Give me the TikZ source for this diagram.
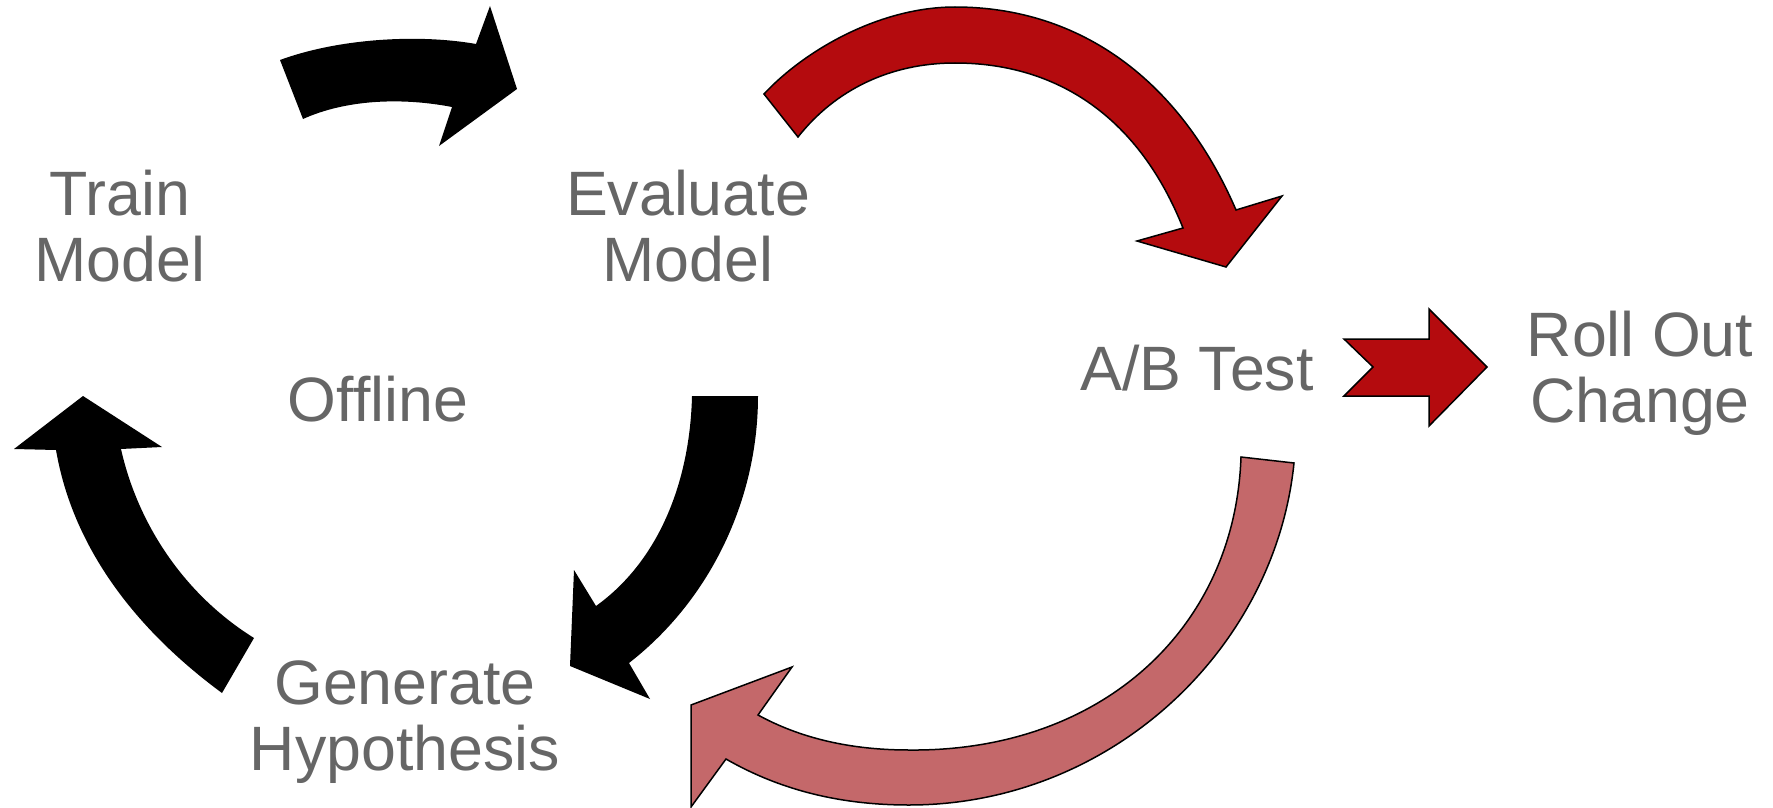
\documentclass[tikz,border=0pt]{standalone}
\usepackage{fontspec}
\setmainfont{Liberation Sans}
\definecolor{txtgray}{HTML}{666666}
\definecolor{arrred}{HTML}{B40B0E}
\definecolor{arrpink}{HTML}{C4686A}
\begin{document}
\begin{tikzpicture}[x=1pt,y=-1pt,
  lbl/.style={font=\fontsize{62.7}{66}\selectfont, text=txtgray, align=center, inner sep=0pt, anchor=base},
  blk/.style={fill=black},
  redarr/.style={fill=arrred, draw=black, line width=1.5pt, line join=miter},
  pinkarr/.style={fill=arrpink, draw=black, line width=1.5pt, line join=miter}]
\useasboundingbox (0,0) rectangle (1773,808);

% labels (base anchor = baseline of the last line)
\node[lbl] (train) at (120,281) {Train\\Model};
\node[lbl] (eval) at (688,281) {Evaluate\\Model};
\node[lbl] (offline) at (378,421) {Offline};
\node[lbl] (ab) at (1197,390) {A/B Test};
\node[lbl] (roll) at (1640,422) {Roll Out\\Change};
\node[lbl] (gen) at (405,770) {Generate\\Hypothesis};

% Train -> Evaluate (black)
\fill[blk] (280,60) .. controls (340,38) and (420,34) .. (476,44) -- (490,6) -- (517,89) -- (439,146) -- (452,107)
  .. controls (400,97) and (345,100) .. (303,119) -- cycle;

% Evaluate -> A/B (red)
\filldraw[redarr] (764,94) .. controls (805,50) and (880,7) .. (955,7) .. controls (1080,7) and (1180,80) .. (1236,210)
  -- (1282,196) -- (1226,267) -- (1137,241) -- (1183,228)
  .. controls (1140,120) and (1060,63) .. (955,63) .. controls (890,63) and (835,90) .. (798,137) -- cycle;

% Evaluate -> Generate (black)
\fill[blk] (692,396) .. controls (690,480) and (660,560) .. (596,606) -- (574,570) -- (570,666) -- (650,699) -- (629,663)
  .. controls (710,600) and (758,500) .. (758,396) -- cycle;

% Generate -> Train (black)
\fill[blk] (222,693) .. controls (150,640) and (75,560) .. (56,450) -- (14,449) -- (83,396) -- (162,447) -- (121,449)
  .. controls (138,525) and (185,595) .. (254,638) -- cycle;

% A/B -> Generate (pink)
\filldraw[pinkarr] (1294,463) .. controls (1275,650) and (1110,805) .. (909,805) .. controls (840,805) and (780,790) .. (726,759)
  -- (691,807) -- (691,705) -- (792,667) -- (758,715)
  .. controls (800,738) and (850,750) .. (909,750) .. controls (1100,752) and (1235,630) .. (1241,457) -- cycle;

% A/B -> Roll out (red straight)
\filldraw[redarr] (1344,339) -- (1429,339) -- (1429,309) -- (1487,367) -- (1429,426) -- (1429,396) -- (1344,396) -- (1373,367) -- cycle;
\end{tikzpicture}
\end{document}
